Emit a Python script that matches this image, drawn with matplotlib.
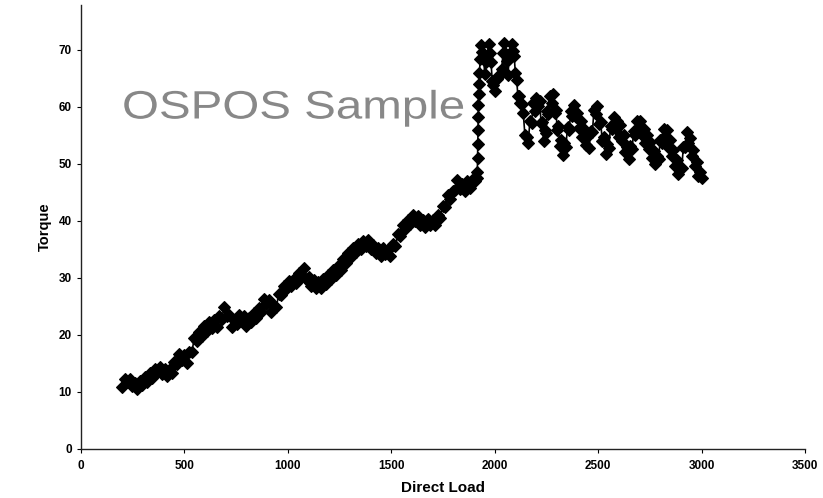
import matplotlib
matplotlib.use("Agg")
import matplotlib.pyplot as plt
from matplotlib.patheffects import AbstractPathEffect
from matplotlib.transforms import Affine2D

# ---- data ----
load_rise = [200, 212, 224, 236, 248, 260, 272, 284, 296, 308, 320, 332, 344, 356, 368, 380,
             392, 404, 416, 428, 440, 452, 464, 476, 488, 500, 512, 524, 536, 548, 560, 572,
             584, 596, 608, 620, 632, 644, 656, 668, 680, 692, 704, 716, 728, 740, 752, 764,
             776, 788, 800, 812, 824, 836, 848, 860, 872, 884, 896, 908, 920, 932, 944, 956,
             968, 980, 992, 1004, 1016, 1028, 1040, 1052, 1064, 1076, 1088, 1100, 1112, 1124,
             1136, 1148, 1160, 1172, 1184, 1196, 1208, 1220, 1232, 1244, 1256, 1268, 1280,
             1292, 1304, 1316, 1328, 1340, 1352, 1364, 1376, 1388, 1400, 1412, 1424, 1436,
             1448, 1460, 1472, 1484, 1496, 1508, 1520, 1532, 1544, 1556, 1568, 1580, 1592,
             1604, 1616, 1628, 1640, 1652, 1664, 1676, 1688, 1700, 1712, 1724, 1736, 1748,
             1760, 1772, 1784, 1796, 1808, 1820, 1832, 1844, 1856, 1868, 1880, 1892, 1904, 1914]
torque_rise = [10.8, 12.2, 11.6, 12.2, 10.9, 11.5, 10.5, 11.8, 11.1, 12.5,
               11.7, 13.2, 12.4, 14.0, 13.4, 14.4, 13.1, 14.0, 12.8, 13.9,
               13.3, 15.2, 14.8, 16.6, 15.6, 16.5, 15.0, 17.0, 17.0, 19.4,
               18.9, 20.5, 19.8, 21.5, 20.7, 22.3, 21.2, 22.5, 21.4, 23.2,
               22.8, 24.8, 23.2, 23.4, 21.4, 22.5, 21.8, 23.5, 22.4, 23.2,
               21.5, 23.0, 22.3, 23.8, 23.0, 24.6, 24.0, 26.2, 25.4, 26.0,
               24.0, 25.0, 24.8, 27.2, 26.9, 28.6, 28.0, 29.5, 28.5, 29.8,
               29.0, 30.8, 30.2, 31.7, 29.8, 30.2, 28.6, 29.6, 28.2, 29.2,
               28.2, 29.7, 28.9, 30.5, 29.7, 31.3, 30.4, 32.0, 31.3, 33.2,
               32.6, 34.3, 33.6, 35.2, 34.5, 36.0, 35.1, 36.5, 35.6, 36.6,
               35.0, 35.8, 34.3, 35.2, 33.8, 35.2, 34.1, 34.8, 33.9, 35.9,
               35.6, 37.7, 37.4, 39.3, 38.6, 40.2, 39.4, 41.1, 40.0, 40.8,
               39.3, 40.2, 38.9, 40.3, 39.2, 40.2, 39.3, 41.0, 40.5, 42.6,
               42.4, 44.5, 43.9, 45.2, 45.4, 47.1, 45.6, 46.4, 45.3, 46.9,
               45.8, 47.1, 46.9, 47.5]

load_jump = [1916, 1917, 1918, 1919, 1920, 1921, 1922, 1924]
torque_jump = [48.5, 51.0, 53.5, 56.0, 58.2, 60.3, 62.2, 64.0]

load_peak = [1926, 1930, 1934, 1940, 1946, 1952, 1958, 1964, 1970, 1976, 1982, 1988, 1994, 2002,
             2010, 2018, 2026, 2034, 2040, 2046, 2052, 2058, 2064, 2070, 2076, 2082, 2088, 2094,
             2100, 2106, 2112, 2118, 2124, 2130]
torque_peak = [66.0, 68.5, 70.8, 69.6, 68.4, 65.8, 67.9, 69.0, 71.0, 69.4, 67.9, 64.6, 63.8, 62.8,
               64.9, 65.4, 65.6, 66.6, 69.4, 71.2, 69.4, 68.0, 65.6, 68.5, 69.5, 71.0, 69.8, 68.9,
               65.9, 64.8, 62.0, 62.0, 60.6, 60.5]

load_fall = [2138, 2146, 2154, 2162, 2170, 2178, 2186, 2194, 2202, 2210, 2218, 2224, 2230, 2236,
             2242, 2248, 2254, 2260, 2268, 2276, 2284, 2290, 2296, 2302, 2308, 2314, 2320, 2328,
             2336, 2344, 2352, 2360, 2368, 2376, 2384, 2392, 2400, 2408, 2416, 2424, 2432, 2440,
             2448, 2456, 2464, 2472, 2480, 2488, 2496, 2504, 2512, 2520, 2528, 2536, 2544, 2552,
             2560, 2568, 2576, 2584, 2592, 2600, 2608, 2616, 2624, 2632, 2640, 2648, 2656, 2664,
             2672, 2680, 2688, 2696, 2704, 2712, 2720, 2728, 2736, 2744, 2752, 2760, 2768, 2776,
             2784, 2792, 2800, 2808, 2816, 2824, 2832, 2840, 2848, 2856, 2864, 2872, 2880, 2888,
             2896, 2904, 2912, 2920, 2928, 2936, 2944, 2952, 2960, 2968, 2976, 2984, 2992, 3000]
torque_fall = [59.0, 55.0, 54.8, 53.6, 57.5, 57.2, 60.6, 59.3, 61.6, 60.2, 61.0, 57.2, 57.4, 54.0,
               55.9, 55.5, 59.3, 58.7, 62.0, 60.7, 62.3, 59.0, 59.5, 56.0, 56.6, 53.2, 54.1, 51.6,
               53.6, 53.0, 56.5, 56.0, 59.3, 58.4, 60.4, 58.2, 59.0, 56.3, 57.5, 54.8, 56.1, 53.3,
               54.8, 52.7, 55.8, 55.6, 59.4, 58.8, 60.2, 57.0, 57.4, 54.0, 54.7, 51.8, 53.4, 52.8,
               56.6, 56.2, 58.3, 56.2, 57.5, 54.8, 56.9, 54.0, 55.0, 52.0, 53.0, 50.8, 53.2, 52.6,
               55.8, 55.0, 57.6, 56.2, 57.6, 55.0, 56.2, 53.6, 55.0, 52.6, 53.8, 51.0, 52.2, 49.9,
               51.3, 50.8, 54.2, 53.6, 56.2, 54.9, 56.0, 53.0, 54.2, 51.4, 52.5, 49.6, 50.7, 48.3,
               49.5, 49.2, 53.0, 53.0, 55.6, 53.6, 54.5, 51.4, 52.4, 49.6, 50.4, 47.8, 48.6, 47.6]

x_ticks = [0, 500, 1000, 1500, 2000, 2500, 3000, 3500]
y_ticks = [0, 10, 20, 30, 40, 50, 60, 70]

load = load_rise + load_jump + load_peak + load_fall
torque = torque_rise + torque_jump + torque_peak + torque_fall


class StretchX(AbstractPathEffect):
    """Stretch text horizontally about its anchor."""
    def __init__(self, sx):
        super().__init__()
        self.sx = sx

    def draw_path(self, renderer, gc, tpath, affine, rgbFace=None):
        m = affine.get_matrix().copy()
        m[0, 0] *= self.sx
        m[0, 1] *= self.sx
        renderer.draw_path(gc, tpath, Affine2D(m), rgbFace)


plt.rcParams['font.family'] = ['Liberation Sans', 'DejaVu Sans']

fig = plt.figure(figsize=(8.23, 4.98), dpi=100)
ax = fig.add_axes([81 / 823, 1 - 448.5 / 498, (805 - 81) / 823, (448.5 - 5) / 498])

ax.plot(load, torque, color='black', lw=1.2, marker='D', markersize=6.0,
        markerfacecolor='black', markeredgecolor='black', markeredgewidth=0.8)

ax.set_xlim(0, 3500)
ax.set_ylim(0, 77.9)
ax.set_xticks(x_ticks)
ax.set_yticks(y_ticks)
ax.set_xticklabels([str(v) for v in x_ticks], fontsize=8.5, fontweight='bold')
ax.set_yticklabels([str(v) for v in y_ticks], fontsize=8.5, fontweight='bold')
ax.tick_params(axis='x', direction='out', length=3, width=0.8, pad=5.5)
ax.tick_params(axis='y', direction='out', length=3, width=0.8, pad=3.5)

for s in ['top', 'right']:
    ax.spines[s].set_visible(False)
for s in ['left', 'bottom']:
    ax.spines[s].set_linewidth(1.0)
    ax.spines[s].set_color('#222222')

ax.set_xlabel('Direct Load', fontsize=11, fontweight='bold', labelpad=6)
ax.set_ylabel('Torque', fontsize=10.5, fontweight='bold', labelpad=5)

fig.text(122 / 823, 1 - 118.5 / 498, 'OSPOS Sample', fontsize=28.5, color='#888888',
         ha='left', va='baseline', path_effects=[StretchX(1.2)])

fig.savefig('out.png', dpi=100)
